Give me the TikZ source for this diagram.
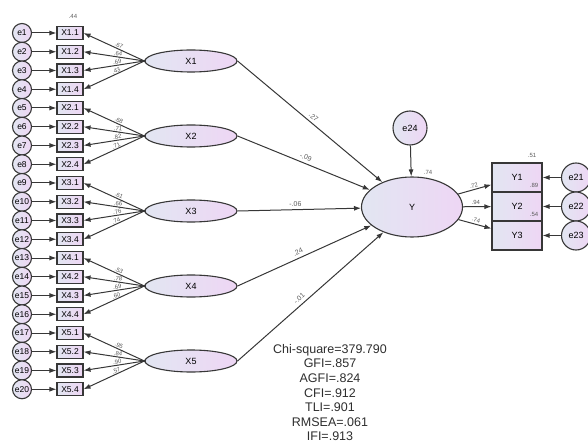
\documentclass[tikz,border=0pt]{standalone}
\usepackage{fontspec}
\setmainfont{Liberation Sans}
\usetikzlibrary{arrows.meta,shapes.geometric}
\definecolor{lc}{RGB}{226,230,242}
\definecolor{rc}{RGB}{238,214,244}
\definecolor{ln}{RGB}{55,55,55}
\definecolor{lab}{RGB}{90,90,90}
\begin{document}
\begin{tikzpicture}[x=1pt,y=-1pt,
 obs/.style={draw=ln,line width=1.1pt,rectangle,minimum width=26pt,minimum height=13pt,inner sep=0pt,left color=lc,right color=rc,font=\fontsize{8.5}{8.5}\selectfont},
 err/.style={draw=ln,line width=1.1pt,circle,minimum size=19pt,inner sep=0pt,left color=lc,right color=rc,font=\fontsize{8.5}{8.5}\selectfont},
 lat/.style={draw=ln,line width=1.1pt,ellipse,minimum width=92pt,minimum height=22pt,inner sep=0pt,left color=lc,right color=rc,font=\fontsize{9}{9}\selectfont},
 arr/.style={draw=ln,line width=1pt,-{Latex[length=7pt,width=5pt]}},
 rarr/.style={draw=ln,line width=1pt,{Latex[length=7pt,width=5pt]}-},
 coef/.style={font=\fontsize{7}{7}\selectfont,text=lab,inner sep=1pt},
 tiny/.style={font=\fontsize{6}{6}\selectfont,text=lab,inner sep=0.6pt},
]
\useasboundingbox (0,0) rectangle (588,446);
\clip (0,0) rectangle (588,446);

% latent exogenous factors, indicators and errors
\foreach \f in {1,...,5} {
  \pgfmathsetmacro\yc{61+75*(\f-1)}
  \node[lat] (X\f) at (191,\yc) {X\f};
  \foreach \i in {1,...,4} {
    \pgfmathtruncatemacro\k{4*(\f-1)+\i}
    \pgfmathsetmacro\yy{33+18.75*(\k-1)}
    \node[obs] (B\f\i) at (70,\yy) {X\f.\i};
    \node[err] (e\k) at (22,\yy) {e\k};
    \draw[arr] (e\k) -- (B\f\i);
  }
}

% loadings
\foreach \f/\i/\v in {1/1/.67,1/2/.64,1/3/.69,1/4/.43,
                      2/1/.68,2/2/.71,2/3/.82,2/4/.71,
                      3/1/.61,3/2/.66,3/3/.76,3/4/.74,
                      4/1/.53,4/2/.78,4/3/.69,4/4/.60,
                      5/1/.95,5/2/.84,5/3/.90,5/4/.57} {
  \draw[rarr] (B\f\i.east) -- (X\f.west) node[tiny,sloped,above,pos=0.56] {\v};
}
\foreach \f in {1,...,5} { \fill[ln] (X\f.west) circle (1.4pt); }

\node[tiny] (r1) at (73,16) {.44};

% endogenous factor
\node[lat,minimum width=101pt,minimum height=60pt] (Y) at (412,207) {Y};
\node[err,minimum size=34pt,font=\fontsize{9}{9}\selectfont] (e24) at (410,128) {e24};
\draw[arr] (e24) -- (Y);
\node[tiny] (ry) at (428,172) {.74};

% structural paths
\draw[arr] (X1.east) -- (Y) node[coef,sloped,above=2pt,pos=0.5] {.27};
\draw[arr] (X2.east) -- (Y) node[coef,sloped,above=2pt,pos=0.5] {-.09};
\draw[arr] (X3.east) -- (Y) node[coef,sloped,above=2pt,pos=0.47] {-.06};
\draw[arr] (X4.east) -- (Y) node[coef,sloped,above=2pt,pos=0.47] {.24};
\draw[arr] (X5.east) -- (Y) node[coef,sloped,above=2pt,pos=0.45] {-.01};

% Y indicators
\foreach \j/\yy in {1/177.5,2/206.5,3/235.5} {
  \pgfmathtruncatemacro\ee{20+\j}
  \node[obs,minimum width=50pt,minimum height=29pt,font=\fontsize{9}{9}\selectfont] (Y\j) at (517,\yy) {Y\j};
  \node[err,minimum size=29pt,font=\fontsize{9}{9}\selectfont] (e\ee) at (576,\yy) {e\ee};
  \draw[arr] (e\ee) -- (Y\j);
}
\draw[arr] (Y) -- (Y1) node[tiny,sloped,above=1pt,pos=0.5] {.72};
\draw[arr] (Y) -- (Y2) node[tiny,above=1pt,pos=0.45] {.94};
\draw[arr] (Y) -- (Y3) node[tiny,sloped,above=1pt,pos=0.5] {.74};
\node[tiny] (r51) at (532,155) {.51};
\node[tiny] (r89) at (534,185) {.89};
\node[tiny] (r54) at (534,214) {.54};

% fit statistics
\node[anchor=north,align=center,inner sep=0pt,text=black!82,
      font=\fontsize{12.5}{14.6}\selectfont] (fit) at (330,344)
 {Chi-square=379.790\\GFI=.857\\AGFI=.824\\CFI=.912\\TLI=.901\\RMSEA=.061\\IFI=.913};
\end{tikzpicture}
\end{document}
